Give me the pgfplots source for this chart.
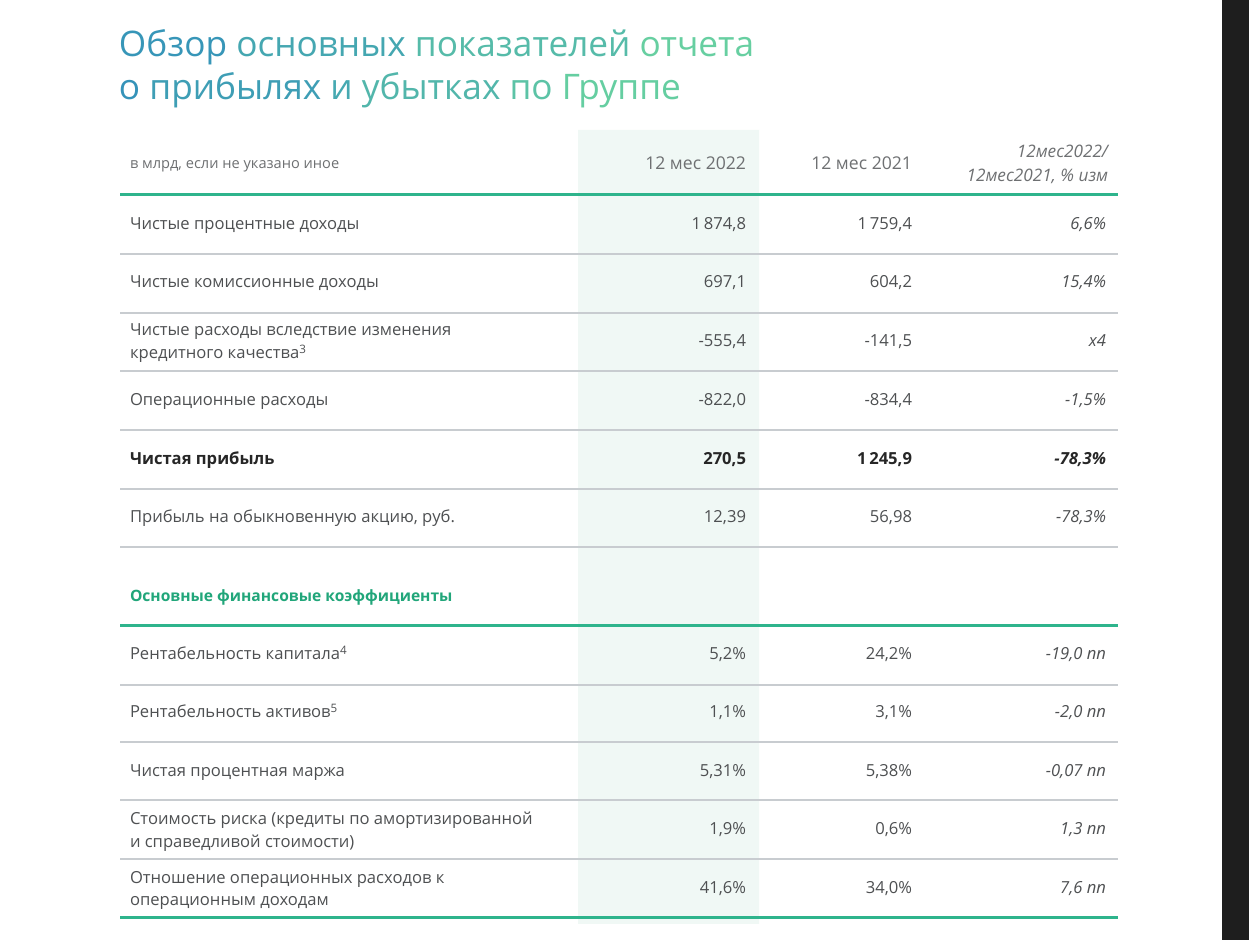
\documentclass[border=0pt]{standalone}
\usepackage{fontspec}
\setmainfont{Open Sans}
\usepackage{pgfplots}
\pgfplotsset{compat=1.18}
\definecolor{tealline}{RGB}{46,180,140}
\definecolor{grayline}{RGB}{200,204,208}
\definecolor{shade}{RGB}{240,248,245}
\definecolor{txt}{RGB}{78,80,82}
\definecolor{hdr}{RGB}{110,112,114}
\definecolor{secgreen}{RGB}{33,166,122}
\definecolor{tA}{RGB}{52,146,186}
\definecolor{tB}{RGB}{108,214,158}
\definecolor{strip}{RGB}{30,30,30}
\newcommand{\tc}[2]{{\color{tB!#1!tA}#2}}
\newcommand{\rowf}{\fontsize{8.3}{10}\selectfont}
\tikzset{cell/.style={inner sep=0pt, outer sep=0pt, text=txt}}
\begin{document}
\begin{tikzpicture}[every node/.style={cell}]
\begin{axis}[scale only axis, width=624.5pt, height=470pt,
  xmin=0, xmax=1249, ymin=0, ymax=940, y dir=reverse,
  axis lines=none, clip=false, no markers]
% background and dark strip
\addplot[draw=none, fill=white] coordinates {(0,0) (1249,0) (1249,940) (0,940) (0,0)};
\addplot[draw=none, fill=strip] coordinates {(1222,0) (1249,0) (1249,940) (1222,940) (1222,0)};
% shaded column
\addplot[draw=none, fill=shade] coordinates {(578,130) (759,130) (759,924) (578,924) (578,130)};
% rules
\addplot[tealline, line width=1.5pt] coordinates {(120,195) (1118,195)};
\addplot[tealline, line width=1.5pt] coordinates {(120,626) (1118,626)};
\addplot[tealline, line width=1.5pt] coordinates {(120,918) (1118,918)};
\addplot[grayline, line width=0.6pt] coordinates {(120,254) (1118,254)};
\addplot[grayline, line width=0.6pt] coordinates {(120,313) (1118,313)};
\addplot[grayline, line width=0.6pt] coordinates {(120,371) (1118,371)};
\addplot[grayline, line width=0.6pt] coordinates {(120,430) (1118,430)};
\addplot[grayline, line width=0.6pt] coordinates {(120,489) (1118,489)};
\addplot[grayline, line width=0.6pt] coordinates {(120,547) (1118,547)};
\addplot[grayline, line width=0.6pt] coordinates {(120,685) (1118,685)};
\addplot[grayline, line width=0.6pt] coordinates {(120,742) (1118,742)};
\addplot[grayline, line width=0.6pt] coordinates {(120,800) (1118,800)};
\addplot[grayline, line width=0.6pt] coordinates {(120,859) (1118,859)};

% title
\node[cell, anchor=base west, font=\fontsize{17.6}{21}\selectfont] at (axis cs:119,57)
 {\tc{6}{Обзор} \tc{30}{основных} \tc{60}{показателей} \tc{90}{отчета}};
\node[cell, anchor=base west, font=\fontsize{17.6}{21}\selectfont] at (axis cs:119,100)
 {\tc{2}{о} \tc{18}{прибылях} \tc{33}{и} \tc{53}{убытках} \tc{72}{по} \tc{88}{Группе}};

% header
\node[cell, anchor=base west, font=\fontsize{7.3}{9}\selectfont, text=hdr] at (axis cs:130,169) {в млрд, если не указано иное};
\node[cell, anchor=base east, font=\fontsize{8.8}{10}\selectfont, text=hdr] at (axis cs:746,170) {12 мес 2022};
\node[cell, anchor=base east, font=\fontsize{8.8}{10}\selectfont, text=hdr] at (axis cs:912,170) {12 мес 2021};
\node[cell, anchor=base east, font=\fontsize{8.6}{10}\selectfont\itshape, text=hdr] at (axis cs:1108,158) {12мес2022/};
\node[cell, anchor=base east, font=\fontsize{8.6}{10}\selectfont\itshape, text=hdr] at (axis cs:1108,182) {12мес2021, \% изм};

% rows: label, col1, col2, col3
\node[cell, anchor=base west, font=\rowf] at (axis cs:130,230) {Чистые процентные доходы};
\node[cell, anchor=base east, font=\rowf] at (axis cs:746,230) {1\,874,8};
\node[cell, anchor=base east, font=\rowf] at (axis cs:912,230) {1\,759,4};
\node[cell, anchor=base east, font=\rowf\itshape] at (axis cs:1106,230) {6,6\%};

\node[cell, anchor=base west, font=\rowf] at (axis cs:130,288) {Чистые комиссионные доходы};
\node[cell, anchor=base east, font=\rowf] at (axis cs:746,288) {697,1};
\node[cell, anchor=base east, font=\rowf] at (axis cs:912,288) {604,2};
\node[cell, anchor=base east, font=\rowf\itshape] at (axis cs:1106,288) {15,4\%};

\node[cell, anchor=base west, font=\rowf] at (axis cs:130,336) {Чистые расходы вследствие изменения};
\node[cell, anchor=base west, font=\rowf] at (axis cs:130,359) {кредитного качества\textsuperscript{3}};
\node[cell, anchor=base east, font=\rowf] at (axis cs:746,347) {-555,4};
\node[cell, anchor=base east, font=\rowf] at (axis cs:912,347) {-141,5};
\node[cell, anchor=base east, font=\rowf\itshape] at (axis cs:1106,347) {x4};

\node[cell, anchor=base west, font=\rowf] at (axis cs:130,406) {Операционные расходы};
\node[cell, anchor=base east, font=\rowf] at (axis cs:746,406) {-822,0};
\node[cell, anchor=base east, font=\rowf] at (axis cs:912,406) {-834,4};
\node[cell, anchor=base east, font=\rowf\itshape] at (axis cs:1106,406) {-1,5\%};

\node[cell, anchor=base west, font=\rowf\bfseries, text=black!85] at (axis cs:130,465) {Чистая прибыль};
\node[cell, anchor=base east, font=\rowf\bfseries, text=black!85] at (axis cs:746,465) {270,5};
\node[cell, anchor=base east, font=\rowf\bfseries, text=black!85] at (axis cs:912,465) {1\,245,9};
\node[cell, anchor=base east, font=\rowf\bfseries\itshape, text=black!85] at (axis cs:1106,465) {-78,3\%};

\node[cell, anchor=base west, font=\rowf] at (axis cs:130,523) {Прибыль на обыкновенную акцию, руб.};
\node[cell, anchor=base east, font=\rowf] at (axis cs:746,523) {12,39};
\node[cell, anchor=base east, font=\rowf] at (axis cs:912,523) {56,98};
\node[cell, anchor=base east, font=\rowf\itshape] at (axis cs:1106,523) {-78,3\%};

\node[cell, anchor=base west, font=\fontsize{7.8}{9}\selectfont\bfseries, text=secgreen] at (axis cs:130,602) {Основные финансовые коэффициенты};

\node[cell, anchor=base west, font=\rowf] at (axis cs:130,660) {Рентабельность капитала\textsuperscript{4}};
\node[cell, anchor=base east, font=\rowf] at (axis cs:746,660) {5,2\%};
\node[cell, anchor=base east, font=\rowf] at (axis cs:912,660) {24,2\%};
\node[cell, anchor=base east, font=\rowf\itshape] at (axis cs:1106,660) {-19,0 пп};

\node[cell, anchor=base west, font=\rowf] at (axis cs:130,718) {Рентабельность активов\textsuperscript{5}};
\node[cell, anchor=base east, font=\rowf] at (axis cs:746,718) {1,1\%};
\node[cell, anchor=base east, font=\rowf] at (axis cs:912,718) {3,1\%};
\node[cell, anchor=base east, font=\rowf\itshape] at (axis cs:1106,718) {-2,0 пп};

\node[cell, anchor=base west, font=\rowf] at (axis cs:130,777) {Чистая процентная маржа};
\node[cell, anchor=base east, font=\rowf] at (axis cs:746,777) {5,31\%};
\node[cell, anchor=base east, font=\rowf] at (axis cs:912,777) {5,38\%};
\node[cell, anchor=base east, font=\rowf\itshape] at (axis cs:1106,777) {-0,07 пп};

\node[cell, anchor=base west, font=\rowf] at (axis cs:130,825) {Стоимость риска (кредиты по амортизированной};
\node[cell, anchor=base west, font=\rowf] at (axis cs:130,848) {и справедливой стоимости)};
\node[cell, anchor=base east, font=\rowf] at (axis cs:746,835) {1,9\%};
\node[cell, anchor=base east, font=\rowf] at (axis cs:912,835) {0,6\%};
\node[cell, anchor=base east, font=\rowf\itshape] at (axis cs:1106,835) {1,3 пп};

\node[cell, anchor=base west, font=\rowf] at (axis cs:130,884) {Отношение операционных расходов к};
\node[cell, anchor=base west, font=\rowf] at (axis cs:130,906) {операционным доходам};
\node[cell, anchor=base east, font=\rowf] at (axis cs:746,894) {41,6\%};
\node[cell, anchor=base east, font=\rowf] at (axis cs:912,894) {34,0\%};
\node[cell, anchor=base east, font=\rowf\itshape] at (axis cs:1106,894) {7,6 пп};
\end{axis}
\end{tikzpicture}
\end{document}
